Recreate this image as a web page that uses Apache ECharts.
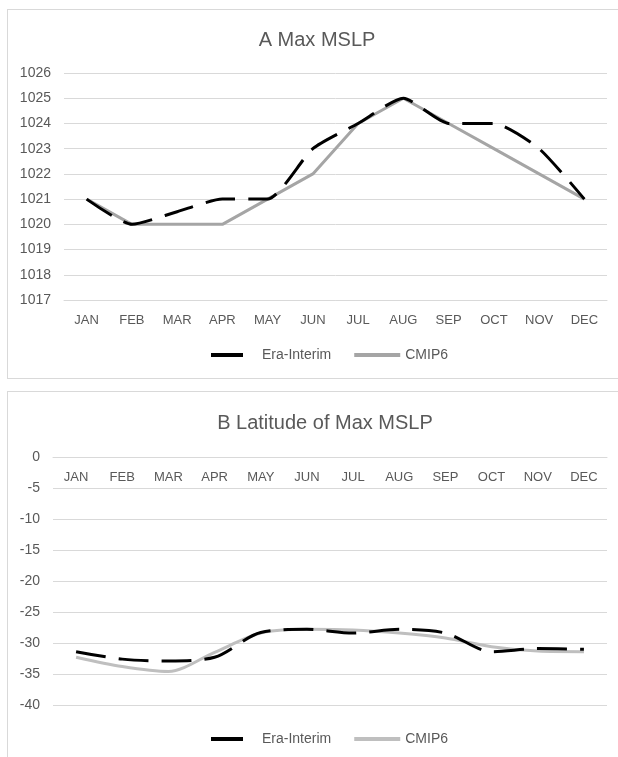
<!DOCTYPE html>
<html>
<head>
<meta charset="utf-8">
<script src="https://cdn.jsdelivr.net/npm/echarts@6/dist/echarts.min.js"></script>
<style>
  body { margin: 0; background: #fff; }
  .panel { position: absolute; left: 7px; width: 615px; height: 368px; border: 1px solid #D9D9D9; }
  #chartA { top: 9px; }
  #chartB { top: 391px; height: 370px; }
</style>
</head>
<body>
<div id="chartA" class="panel"></div>
<div id="chartB" class="panel"></div>
<script>
// month categories shared by both panels
const months = ['JAN', 'FEB', 'MAR', 'APR', 'MAY', 'JUN', 'JUL', 'AUG', 'SEP', 'OCT', 'NOV', 'DEC']

// A: max MSLP (hPa)
const eraMslp = [1021, 1020, 1020.5, 1021, 1021, 1023, 1024, 1025, 1024, 1024, 1023, 1021]
const cmipMslp = [1021, 1020, 1020, 1020, 1021, 1022, 1024, 1025, 1024, 1023, 1022, 1021]

// B: latitude of max MSLP (deg)
const eraLat = [-31.4, -32.6, -32.9, -32.3, -28.3, -27.8, -28.4, -27.8, -28.4, -31.4, -30.9, -31]
const cmipLat = [-32.3, -33.8, -34.6, -31.5, -28.4, -27.8, -27.9, -28.4, -29.2, -30.6, -31.3, -31.4]

const textColor = '#595959'
const gridColor = '#D9D9D9'
const font = '"Liberation Sans", Arial, sans-serif'

function buildOption(cfg) {
    return {
        animation: false,
        textStyle: { fontFamily: font },
        title: {
            text: cfg.title,
            left: cfg.titleX,
            top: cfg.titleTop,
            textAlign: 'center',
            textStyle: { color: textColor, fontSize: 20, fontWeight: 'normal', fontFamily: font }
        },
        grid: cfg.grid,
        legend: {
            left: 196,
            top: cfg.legendTop,
            itemWidth: 46,
            itemHeight: 14,
            itemGap: 21,
            itemStyle: { opacity: 0 },
            textStyle: { color: textColor, fontSize: 14, fontFamily: font },
            data: [
                { name: 'Era-Interim', lineStyle: { type: [32, 20], width: 4 } },
                { name: 'CMIP6', lineStyle: { width: 4 } }
            ]
        },
        xAxis: {
            type: 'category',
            data: months,
            position: cfg.xPos,
            boundaryGap: true,
            axisLine: { show: true, onZero: false, lineStyle: { color: gridColor } },
            axisTick: { show: false },
            axisLabel: {
                color: textColor, fontSize: 13, margin: cfg.xMargin,
                inside: cfg.xPos === 'top', interval: 0, fontFamily: font
            }
        },
        yAxis: {
            type: 'value',
            min: cfg.min,
            max: cfg.max,
            interval: cfg.interval,
            axisLine: { show: false },
            axisTick: { show: false },
            axisLabel: {
                color: textColor, fontSize: 14, margin: 13, fontFamily: font,
                formatter: v => String(v)
            },
            splitLine: { lineStyle: { color: gridColor, width: 1 } }
        },
        series: [
            {
                name: 'Era-Interim',
                type: 'line',
                data: cfg.era,
                symbol: 'none',
                smooth: cfg.smoothEra,
                z: 3,
                lineStyle: { color: '#000', width: 3, type: [30, 13] },
                itemStyle: { color: '#000' }
            },
            {
                name: 'CMIP6',
                type: 'line',
                data: cfg.cmip,
                symbol: 'none',
                smooth: cfg.smoothCmip,
                z: 2,
                lineStyle: { color: cfg.gray, width: 3 },
                itemStyle: { color: cfg.gray }
            }
        ]
    }
}

const chartA = echarts.init(document.getElementById('chartA'))
chartA.setOption(buildOption({
    title: 'A Max MSLP',
    titleX: 304,
    titleTop: 15,
    grid: { left: 56, top: 63, width: 543, height: 227 },
    legendTop: 333,
    min: 1017,
    max: 1026,
    interval: 1,
    xPos: 'bottom',
    xMargin: 14,
    era: eraMslp,
    cmip: cmipMslp,
    smoothEra: 0.2,
    smoothCmip: false,
    gray: '#A5A5A5'
}))

const chartB = echarts.init(document.getElementById('chartB'))
chartB.setOption(buildOption({
    title: 'B Latitude of Max MSLP',
    titleX: 312,
    titleTop: 16,
    grid: { left: 45, top: 65, width: 554, height: 248 },
    legendTop: 335,
    min: -40,
    max: 0,
    interval: 5,
    xPos: 'top',
    xMargin: 14,
    era: eraLat,
    cmip: cmipLat,
    smoothEra: 0.3,
    smoothCmip: 0.3,
    gray: '#BFBFBF'
}))
</script>
</body>
</html>
